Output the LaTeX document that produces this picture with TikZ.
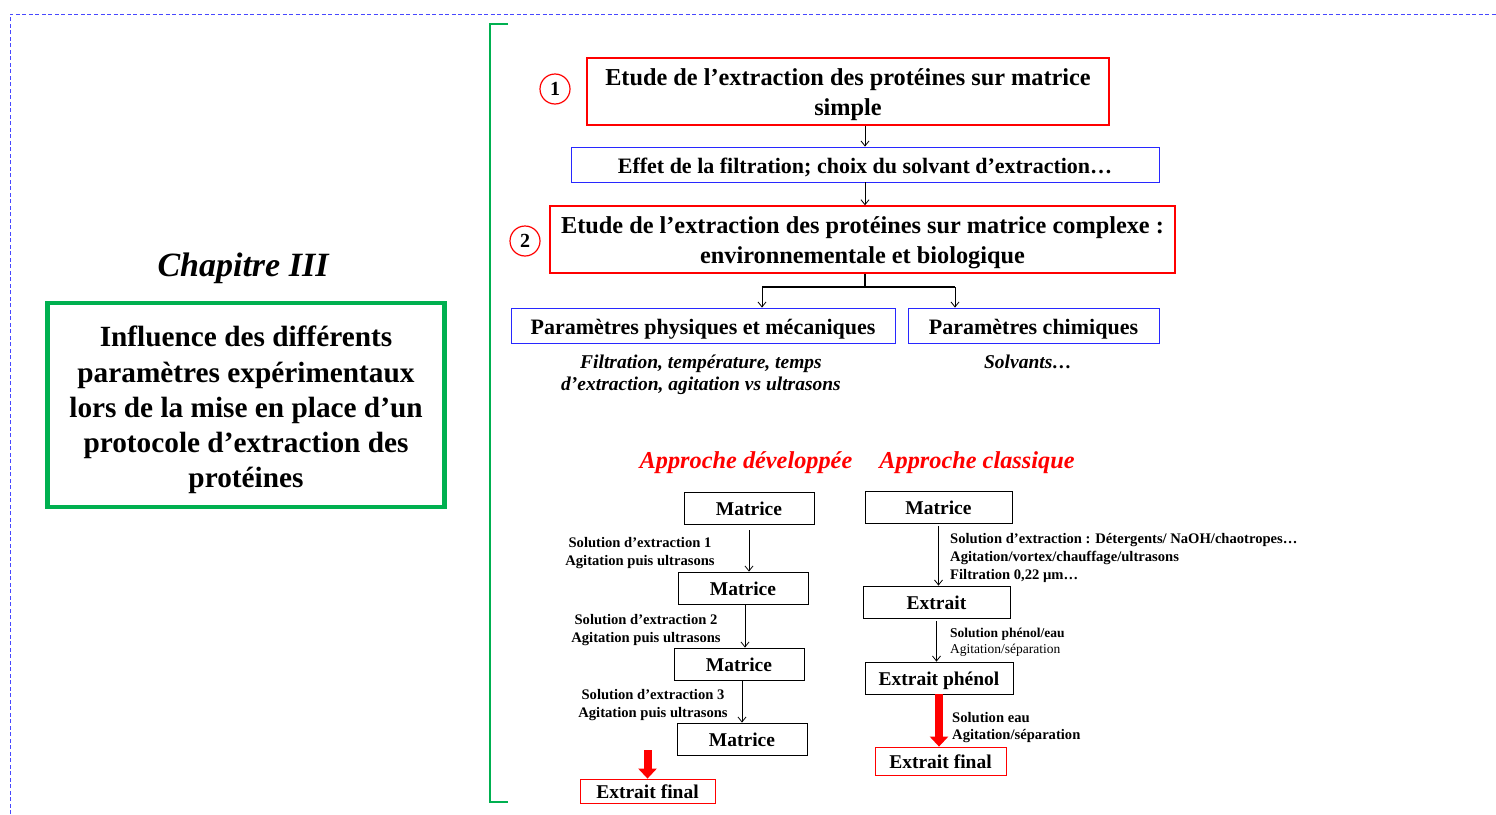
\documentclass[tikz,border=0pt]{standalone}
\usepackage{fontspec}
\setmainfont{Liberation Serif}
\usetikzlibrary{arrows.meta,positioning}
\definecolor{vertcadre}{RGB}{0,176,80}
\definecolor{bleucadre}{RGB}{40,40,255}
\newcommand{\haut}[1]{\rule{0pt}{#1}}
\tikzset{
  boxrouge/.style={draw=red, line width=1.3pt, align=center, inner sep=0pt,
    font=\bfseries\fontsize{24.3}{30}\selectfont},
  boxbleu/.style={draw=bleucadre, line width=0.8pt, align=center, inner sep=0pt,
    text height=18.4pt, text depth=0pt, font=\bfseries\fontsize{22}{26}\selectfont},
  boxnoir/.style={draw=black, line width=0.8pt, align=center, inner sep=0pt,
    minimum height=32pt, text height=15.4pt, text depth=0pt,
    font=\bfseries\fontsize{19.5}{22}\selectfont},
  boxfinal/.style={draw=red, line width=0.8pt, align=center, inner sep=0pt,
    text height=15.4pt, text depth=0pt, font=\bfseries\fontsize{19.5}{22}\selectfont},
  cercle/.style={draw=red, circle, line width=1.2pt, minimum size=30pt, inner sep=0pt,
    font=\bfseries\fontsize{20}{24}\selectfont},
  legende/.style={align=center, inner sep=0pt, font=\bfseries\fontsize{14.6}{18}\selectfont},
  approche/.style={red, font=\bfseries\itshape\fontsize{24.3}{28}\selectfont},
  fleche/.style={-{Straight Barb[length=5pt,width=8pt]}, line width=0.8pt},
  flecherouge/.style={red, line width=8pt, -{Triangle[length=10pt,width=18pt]}},
}
\begin{document}
\begin{tikzpicture}[x=1pt,y=-1pt]
\useasboundingbox (0,0) rectangle (1496,814);
% cadre
\draw[bleucadre!85, dash pattern=on 4pt off 2.5pt, line width=0.6pt] (10,814) -- (10,14) -- (1496,14);
\draw[vertcadre, line width=2.5pt] (508,24) -- (490,24) -- (490,802) -- (508,802);

% partie gauche
\node[font=\bfseries\itshape\fontsize{34}{38}\selectfont] (chap) at (243,268) {Chapitre III};
\node[draw=vertcadre, line width=4.5pt, minimum width=397pt, minimum height=204pt,
  align=center, inner sep=0pt, font=\bfseries\fontsize{29.3}{35.25}\selectfont] (titre) at (246,405)
  {\haut{31pt}Influence des différents\\paramètres expérimentaux\\lors de la mise en place d’un\\protocole d’extraction des\\protéines};

% etapes
\node[boxrouge, minimum width=522pt, minimum height=67pt] (etude1) at (848,91.5)
  {\haut{23.5pt}Etude de l’extraction des protéines sur matrice\\simple};
\node[cercle] (num1) at (555,89) {1};
\node[boxbleu, minimum width=588pt, minimum height=35pt] (effet) at (865,164.5)
  {Effet de la filtration; choix du solvant d’extraction…};
\node[boxrouge, minimum width=625pt, minimum height=67pt] (etude2) at (862.5,239.5)
  {\haut{23.5pt}Etude de l’extraction des protéines sur matrice complexe :\\environnementale et biologique};
\node[cercle] (num2) at (525,241) {2};
\node[boxbleu, minimum width=384pt, minimum height=35pt] (physique) at (703,325.5)
  {Paramètres physiques et mécaniques};
\node[boxbleu, minimum width=251pt, minimum height=35pt] (chimique) at (1033.5,325.5)
  {Paramètres chimiques};
\node[font=\bfseries\itshape\fontsize{19.5}{22.5}\selectfont, align=center] (descphys) at (701,375)
  {Filtration, température, temps\\d’extraction, agitation vs ultrasons};
\node[font=\bfseries\itshape\fontsize{19.5}{22}\selectfont] (descchim) at (1028,362) {Solvants…};

\draw[fleche] (etude1.south -| effet.north) -- (effet.north);
\draw[fleche] (effet.south) -- (effet.south |- etude2.north);
\coordinate (branche) at (865,287);
\coordinate (brG) at (762,287);
\coordinate (brD) at (955,287);
\draw[line width=1.3pt] (etude2.south -| branche) -- (branche);
\draw[line width=1.3pt] (brG) -- (brD);
\draw[fleche] (brG) -- (brG |- physique.north);
\draw[fleche] (brD) -- (brD |- chimique.north);

% approches
\node[approche] (devel) at (746,463) {Approche développée};
\node[approche] (classique) at (977,463) {Approche classique};

% approche developpee
\node[boxnoir, minimum width=130pt] (matA1) at (749,508) {Matrice};
\node[boxnoir, minimum width=130pt] (matA2) at (743,588) {Matrice};
\node[boxnoir, minimum width=130pt] (matA3) at (739,664) {Matrice};
\node[boxnoir, minimum width=130pt] (matA4) at (742,739) {Matrice};
\node[boxfinal, minimum width=135pt, minimum height=24pt] (finalA) at (647.5,791) {Extrait final};
\node[legende] (solA1) at (640,553) {Solution d’extraction 1\\Agitation puis ultrasons};
\node[legende] (solA2) at (646,630) {Solution d’extraction 2\\Agitation puis ultrasons};
\node[legende] (solA3) at (653,705) {Solution d’extraction 3\\Agitation puis ultrasons};
\draw[fleche] ([yshift=-6pt]matA1.south) -- (matA1.south |- matA2.north);
\draw[fleche] ([xshift=2pt]matA2.south) -- ([xshift=2pt]matA2.south |- matA3.north);
\draw[fleche] ([xshift=3pt]matA3.south) -- ([xshift=3pt]matA3.south |- matA4.north);
\draw[flecherouge] ([yshift=5pt]matA4.south -| finalA.north) -- (finalA.north);

% approche classique
\node[boxnoir, minimum width=147pt] (matB) at (938.5,507) {Matrice};
\node[boxnoir, minimum width=147pt] (extraitB) at (936.5,602) {Extrait};
\node[boxnoir, minimum width=148pt] (phenolB) at (939,678) {Extrait phénol};
\node[boxfinal, minimum width=131pt, minimum height=28pt] (finalB) at (940.5,761) {Extrait final};
\node[legende, align=left, anchor=west] (solB1) at (950,557.5)
  {Solution d’extraction : Détergents/ NaOH/chaotropes…\\Agitation/vortex/chauffage/ultrasons\\Filtration 0,22 µm…};
\node[legende, align=left, anchor=west, font=\fontsize{13.5}{16}\selectfont] (solB2) at (950,642)
  {\textbf{Solution phénol/eau}\\Agitation/séparation};
\node[legende, align=left, anchor=west, font=\bfseries\fontsize{14.6}{17}\selectfont] (solB3) at (952,727.5)
  {Solution eau\\Agitation/séparation};
\draw[fleche] ([yshift=-3pt]matB.south) -- (matB.south |- extraitB.north);
\draw[fleche] ([yshift=-3pt]extraitB.south) -- (extraitB.south |- phenolB.north);
\draw[flecherouge] (phenolB.south) -- (phenolB.south |- finalB.north);
\end{tikzpicture}
\end{document}
